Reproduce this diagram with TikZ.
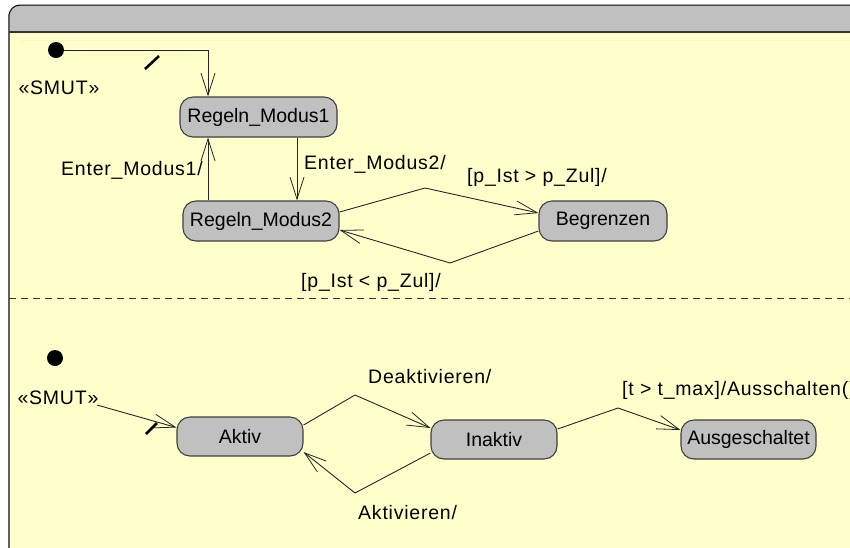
\documentclass[tikz,border=0pt]{standalone}
\usepackage{fontspec}
\setmainfont{Liberation Sans}
\newfontfamily\lblfont[LetterSpace=4]{Liberation Sans}
\usetikzlibrary{arrows.meta}
\definecolor{regionfill}{HTML}{FFFFCC}
\definecolor{statefill}{HTML}{C0C0C0}
\definecolor{framegray}{HTML}{606060}
\tikzset{
  stbox/.style={draw=black!75, line width=1.1pt, fill=statefill, rounded corners=13pt,
    inner sep=0pt, font=\fontsize{19.5}{22}\selectfont},
  trans/.style={draw=black!85, line width=0.9pt,
    -{Straight Barb[length=22pt,width=14pt,line width=0.8pt]}},
  lbl/.style={inner sep=0pt, font=\lblfont\fontsize{19.5}{22}\selectfont},
  initdot/.style={circle, fill=black, inner sep=0pt, minimum size=16pt},
  slashmark/.style={draw=black, line width=2.6pt},
}
\begin{document}
\begin{tikzpicture}[x=1pt,y=-1pt]
\path[use as bounding box] (0,0) rectangle (850,547);
\clip (0,0) rectangle (850,547);
\fill[white] (0,0) rectangle (850,547);

% outer state frame with header
\fill[regionfill, rounded corners=11pt] (9,5) rectangle (900,600);
\fill[statefill, rounded corners=11pt] (9,5) rectangle (900,40);
\fill[regionfill] (9,32) rectangle (900,40);
\draw[black, line width=1pt, rounded corners=11pt] (9,600) -- (9,5) -- (900,5);
\draw[framegray, line width=2.2pt] (9,14) -- (9,600);
\draw[black!80, line width=1.6pt] (9,32) -- (900,32);

% region separator
\draw[black!80, line width=1pt, dash pattern=on 7pt off 5pt] (9,298) -- (850,298);

% states, upper region
\node[stbox, minimum width=157pt, minimum height=40pt] (r1) at (258.5,117) {Regeln\_Modus1};
\node[stbox, minimum width=156pt, minimum height=40pt] (r2) at (261,221) {Regeln\_Modus2};
\node[stbox, minimum width=128pt, minimum height=40pt] (beg) at (603,221) {Begrenzen};

% states, lower region
\node[stbox, minimum width=126pt, minimum height=39pt] (akt) at (240,436.5) {Aktiv};
\node[stbox, minimum width=126pt, minimum height=39pt] (ina) at (494,439.5) {Inaktiv};
\node[stbox, minimum width=135pt, minimum height=39pt] (aus) at (748.5,439.5) {Ausgeschaltet};

% initial pseudostates and stereotypes
\node[initdot] (i1) at (56,50) {};
\node[initdot] (i2) at (55,358) {};
\node[lbl] (smut1) at (59,88) {«SMUT»};
\node[lbl] (smut2) at (58,398) {«SMUT»};

% bend points
\coordinate (c1) at (208,50);
\coordinate (s2) at (97,405);
\coordinate (b1) at (425,188);
\coordinate (b2) at (450,263);
\coordinate (b3) at (355,395);
\coordinate (b4) at (355,493);
\coordinate (b5) at (618,408);
\coordinate (k1a) at (145,69);
\coordinate (k1b) at (159,56);
\coordinate (k2a) at (146,434);
\coordinate (k2b) at (157,423);

% transitions, upper region
\draw[trans] (i1.east) -- (c1) -- (c1 |- r1.north);
\draw[trans] ([xshift=-53pt]r2.north) -- ([xshift=-53pt]r2.north |- r1.south);
\draw[trans] ([xshift=38.5pt]r1.south) -- ([xshift=38.5pt]r1.south |- r2.north);
\draw[trans] ([yshift=9pt]r2.east) -- (b1) -- ([yshift=8pt]beg.west);
\draw[trans] ([yshift=-10pt]beg.west) -- (b2) -- ([yshift=-9pt]r2.east);
\draw[slashmark] (k1a) -- (k1b);

% transitions, lower region
\draw[trans] (s2) -- ([yshift=9pt]akt.west);
\draw[trans] ([yshift=11.5pt]akt.east) -- (b3) -- ([yshift=11.5pt]ina.west);
\draw[trans] ([yshift=-13.5pt]ina.west) -- (b4) -- ([yshift=-15.5pt]akt.east);
\draw[trans] ([yshift=10.5pt]ina.east) -- (b5) -- ([yshift=9.5pt]aus.west);
\draw[slashmark] (k2a) -- (k2b);

% transition labels
\node[lbl, anchor=east] (l1) at (203,170) {Enter\_Modus1/};
\node[lbl, anchor=west] (l2) at (304,164) {Enter\_Modus2/};
\node[lbl, anchor=west] (l3) at (467,177) {[p\_Ist > p\_Zul]/};
\node[lbl, anchor=west] (l4) at (301,282) {[p\_Ist < p\_Zul]/};
\node[lbl, anchor=west] (l5) at (368,377) {Deaktivieren/};
\node[lbl, anchor=west] (l6) at (358,513) {Aktivieren/};
\node[lbl, anchor=west] (l7) at (622,390) {[t > t\_max]/Ausschalten()};
\end{tikzpicture}
\end{document}
